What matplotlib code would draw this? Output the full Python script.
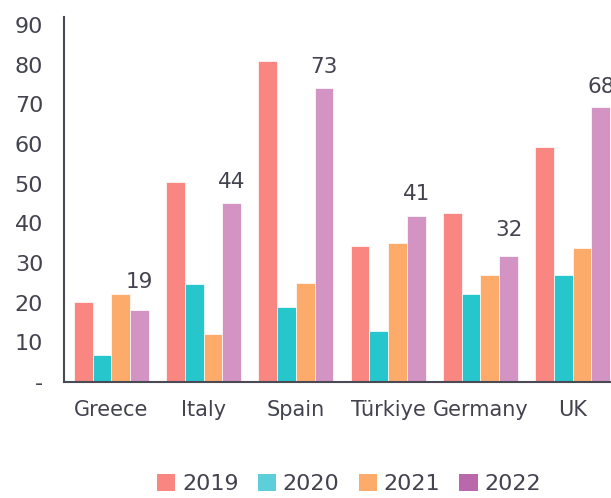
import matplotlib
matplotlib.use("Agg")
import matplotlib.pyplot as plt
from matplotlib.patches import Patch
import numpy as np

countries = ["Greece", "Italy", "Spain", "Türkiye", "Germany", "UK"]
years = ["2019", "2020", "2021", "2022"]
v2019 = [20.2, 50.5, 80.9, 34.3, 42.5, 59.3]
v2020 = [6.8, 24.8, 18.9, 12.8, 22.3, 26.9]
v2021 = [22.2, 12.2, 24.9, 35.1, 26.9, 33.7]
v2022 = [18.2, 45.2, 74.1, 41.8, 31.7, 69.4]
labels2022 = ["19", "44", "73", "41", "32", "68"]
yticks = [0, 10, 20, 30, 40, 50, 60, 70, 80, 90]
yticklabels = ["-", "10", "20", "30", "40", "50", "60", "70", "80", "90"]

bar_colors = ["#F98681", "#26C6CC", "#FDAB6B", "#D394C4"]
legend_colors = ["#F98681", "#5CCFDA", "#FDAB6B", "#B868AB"]
text_color = "#43434f"
axis_color = "#4a4a55"

plt.rcParams['font.family'] = ['DejaVu Sans']

W, H = 611, 498
fig = plt.figure(figsize=(W / 100, H / 100), dpi=100)
ax_left, ax_right = 64, 620
ax_bottom, ax_top = 382, 17
ax = fig.add_axes([ax_left / W, (H - ax_bottom) / H, (ax_right - ax_left) / W, (ax_bottom - ax_top) / H])

x = np.arange(len(countries))
w = 0.2025
series = [v2019, v2020, v2021, v2022]
for i, vals in enumerate(series):
    ax.bar(x + (i - 1.5) * w, vals, width=w, color=bar_colors[i],
           edgecolor="white", linewidth=0.5, zorder=2)

for xi, lab in zip(x, labels2022):
    ax.annotate(lab, (xi + 1.5 * w, float(lab)), xytext=(0, 18), textcoords="offset points",
                ha="center", va="center", fontsize=15.5, color=text_color,
                annotation_clip=False)

ax.set_ylim(0, 92)
ax.set_xlim(-0.512, (ax_right - 111.3) / 92.3)
ax.set_yticks(yticks)
ax.set_yticklabels(yticklabels)
ax.set_xticks(x)
ax.set_xticklabels(countries)

for s in ["top", "right"]:
    ax.spines[s].set_visible(False)
for s in ["left", "bottom"]:
    ax.spines[s].set_color(axis_color)
    ax.spines[s].set_linewidth(1.5)

ax.tick_params(axis="y", length=0, pad=15, labelsize=16, labelcolor=text_color)
ax.tick_params(axis="x", length=0, pad=13, labelsize=15, labelcolor=text_color)

handles = [Patch(facecolor=c, edgecolor="none") for c in legend_colors]
fig.legend(handles, years, loc="center", bbox_to_anchor=(349 / W, 14 / H), ncol=4,
           frameon=False, fontsize=16, handlelength=0.84, handleheight=0.84,
           handletextpad=0.3, columnspacing=0.85, labelcolor=text_color,
           borderaxespad=0, borderpad=0)

fig.savefig("out.png", dpi=100)
